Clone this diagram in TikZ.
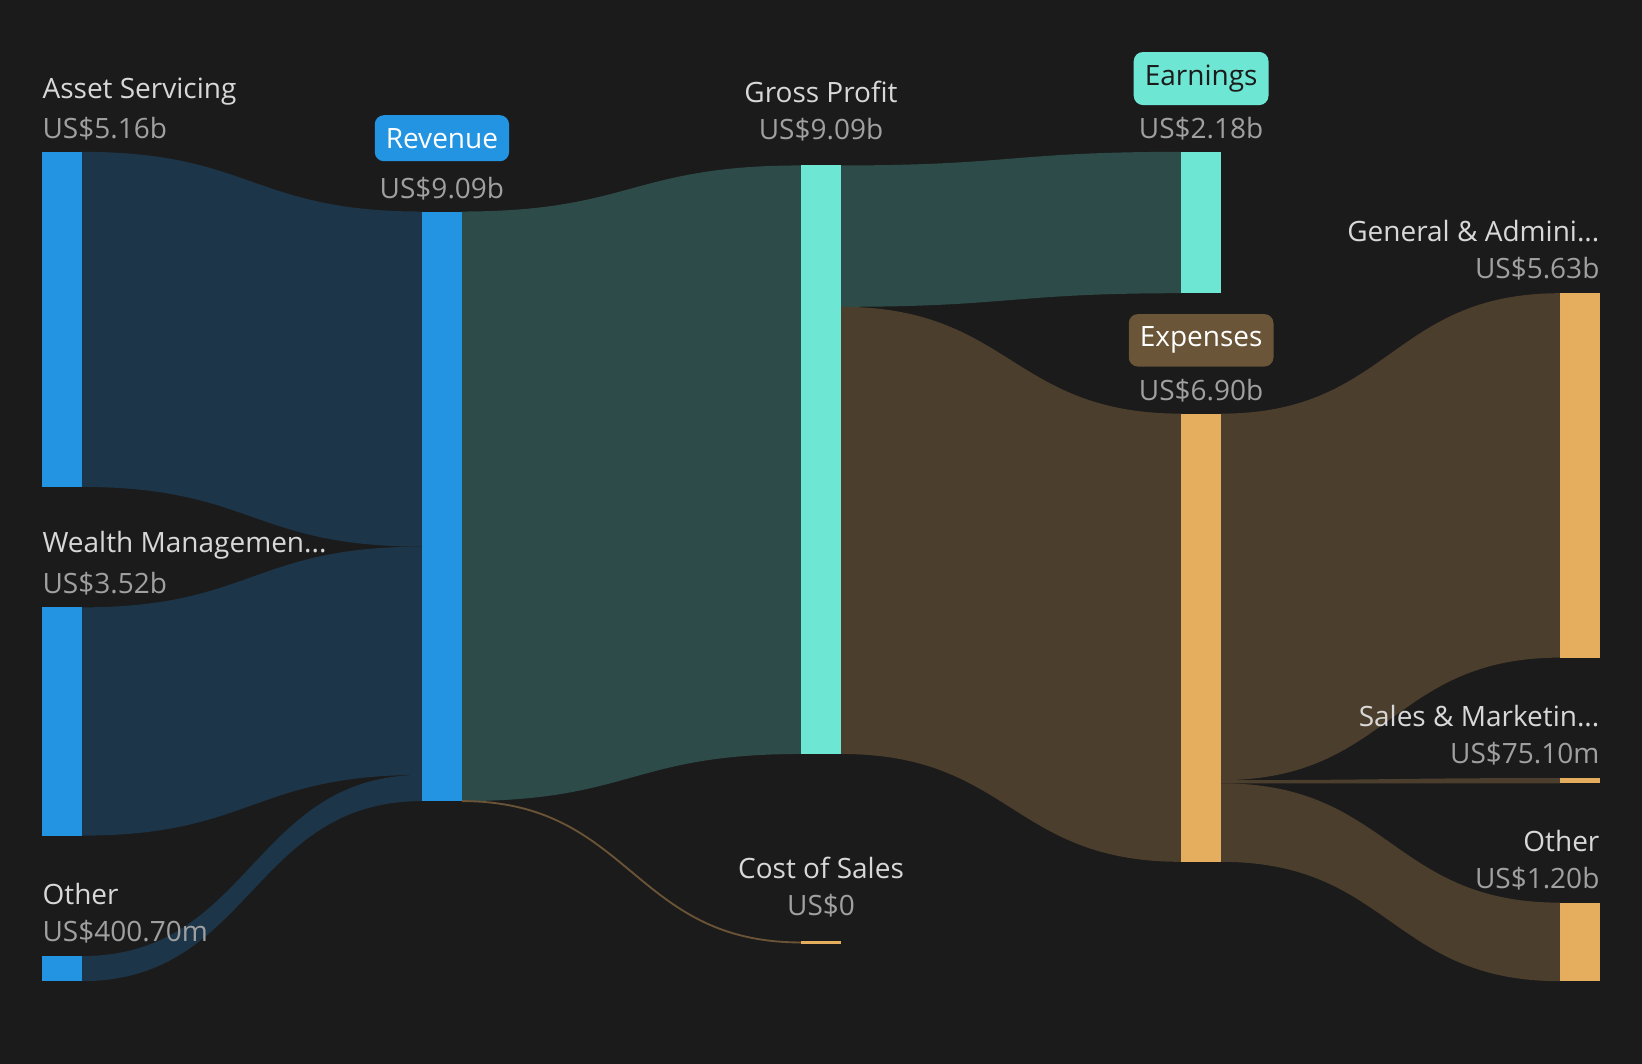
\documentclass[tikz,border=0pt]{standalone}
\usepackage{fontspec}
\setmainfont{Open Sans}
\usetikzlibrary{positioning}
\definecolor{bg}{HTML}{1B1B1B}
\definecolor{blu}{HTML}{2394E1}
\definecolor{bluflow}{HTML}{1C3548}
\definecolor{teal}{HTML}{6EE6D4}
\definecolor{tealflow}{HTML}{2D4B48}
\definecolor{ora}{HTML}{E5AE5F}
\definecolor{broflow}{HTML}{4C3E2C}
\definecolor{brobadge}{HTML}{6B5539}
\definecolor{nametxt}{HTML}{D8D8D8}
\definecolor{valtxt}{HTML}{A0A0A0}
\newcommand\flow[7]{\fill[#7] (#1,#2) .. controls ({(#1+#4)/2},#2) and ({(#1+#4)/2},#5) .. (#4,#5) -- (#4,#6) .. controls ({(#1+#4)/2},#6) and ({(#1+#4)/2},#3) .. (#1,#3) -- cycle;}
\newcommand\sbar[5]{\fill[#5] (#1,#2) rectangle (#3,#4);}
\tikzset{
  lbl/.style={text=nametxt,font=\fontsize{7.6}{9}\selectfont,inner sep=0pt},
  vlbl/.style={text=valtxt,font=\fontsize{7.6}{9}\selectfont,inner sep=0pt},
  badge/.style={rounded corners=2.5pt,font=\fontsize{7.6}{9}\selectfont,inner xsep=3pt,inner ysep=3.5pt}
}
\begin{document}
\begin{tikzpicture}[x=0.01cm,y=-0.01cm]
  \fill[bg] (0,0) rectangle (1568,1016);
  % flows
  \flow{78}{145}{465}{403}{202}{522}{bluflow}
  \flow{78}{580}{798}{403}{522}{740}{bluflow}
  \flow{78}{913}{937}{403}{740}{765}{bluflow}
  \flow{441}{202}{765}{765}{158}{720}{tealflow}
  \draw[broflow!80!ora,line width=0.5pt] (441,765) .. controls (603,765) and (603,900) .. (765,900);
  \flow{803}{158}{293}{1128}{145}{280}{tealflow}
  \flow{803}{293}{720}{1128}{395}{823}{broflow}
  \flow{1166}{395}{745}{1490}{280}{628}{broflow}
  \flow{1166}{745}{748}{1490}{743}{748}{broflow}
  \flow{1166}{748}{823}{1490}{862}{937}{broflow}
  % bars
  \sbar{40}{145}{78}{465}{blu}
  \sbar{40}{580}{78}{798}{blu}
  \sbar{40}{913}{78}{937}{blu}
  \sbar{403}{202}{441}{765}{blu}
  \sbar{765}{158}{803}{720}{teal}
  \sbar{765}{899}{803}{901}{ora}
  \sbar{1128}{145}{1166}{280}{teal}
  \sbar{1128}{395}{1166}{823}{ora}
  \sbar{1490}{280}{1528}{628}{ora}
  \sbar{1490}{743}{1528}{748}{ora}
  \sbar{1490}{862}{1528}{937}{ora}
  % labels
  \node[lbl,anchor=west] (asset) at (40,87) {Asset Servicing};
  \node[vlbl,anchor=west] (assetv) at (40,123) {US\$5.16b};
  \node[lbl,anchor=west] (wealth) at (40,521) {Wealth Managemen...};
  \node[vlbl,anchor=west] (wealthv) at (40,557) {US\$3.52b};
  \node[lbl,anchor=west] (otherl) at (40,854) {Other};
  \node[vlbl,anchor=west] (otherlv) at (40,890) {US\$400.70m};
  \node[badge,fill=blu,text=white] (rev) at (422,132) {Revenue};
  \node[vlbl] (revv) at (422,180) {US\$9.09b};
  \node[lbl] (gp) at (784,88) {Gross Profit};
  \node[vlbl] (gpv) at (784,124) {US\$9.09b};
  \node[lbl] (cos) at (784,829) {Cost of Sales};
  \node[vlbl] (cosv) at (784,865) {US\$0};
  \node[badge,fill=teal,text=bg] (earn) at (1147,75) {Earnings};
  \node[vlbl] (earnv) at (1147,123) {US\$2.18b};
  \node[badge,fill=brobadge,text=white] (exp) at (1147,325) {Expenses};
  \node[vlbl] (expv) at (1147,373) {US\$6.90b};
  \node[lbl,anchor=east] (ga) at (1528,221) {General \& Admini...};
  \node[vlbl,anchor=east] (gav) at (1528,257) {US\$5.63b};
  \node[lbl,anchor=east] (sm) at (1528,684) {Sales \& Marketin...};
  \node[vlbl,anchor=east] (smv) at (1528,720) {US\$75.10m};
  \node[lbl,anchor=east] (otherr) at (1528,803) {Other};
  \node[vlbl,anchor=east] (otherrv) at (1528,839) {US\$1.20b};
\end{tikzpicture}
\end{document}
